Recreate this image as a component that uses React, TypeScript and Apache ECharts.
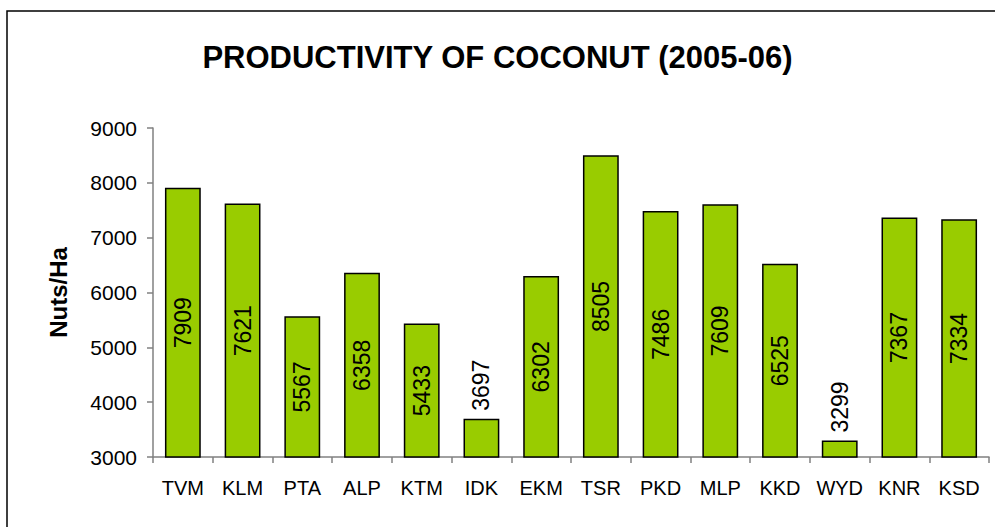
import React, { useEffect, useRef } from "react";
import * as echarts from "echarts";

const categories = ["TVM", "KLM", "PTA", "ALP", "KTM", "IDK", "EKM", "TSR", "PKD", "MLP", "KKD", "WYD", "KNR", "KSD"];
const values = [7909, 7621, 5567, 6358, 5433, 3697, 6302, 8505, 7486, 7609, 6525, 3299, 7367, 7334];
const yTicks = [3000, 4000, 5000, 6000, 7000, 8000, 9000];
const titleText = "PRODUCTIVITY OF COCONUT (2005-06)";
const yName = "Nuts/Ha";

const FONT = "Arial, 'Liberation Sans', sans-serif";

export default function App() {
  const ref = useRef<HTMLDivElement>(null);
  useEffect(() => {
    if (!ref.current) return;
    const chart = echarts.init(ref.current, null, { renderer: "svg" });
    const data = values.map((v) => ({
      value: v,
      label: v < 4000 ? { position: "top", distance: 8, align: "left", verticalAlign: "middle" } : undefined,
    }));
    chart.setOption({
      animation: false,
      backgroundColor: "#ffffff",
      title: {
        text: titleText,
        left: "center",
        top: 37,
        textStyle: { fontFamily: FONT, fontSize: 31, fontWeight: "bold", color: "#000" },
      },
      graphic: [
        {
          type: "polyline",
          shape: { points: [[7, 540], [7, 11], [1010, 11]] },
          style: { stroke: "#000", lineWidth: 1.5, fill: "none" },
          silent: true,
        },
      ],
      grid: { left: 153, right: 6, top: 128, bottom: 70, containLabel: false },
      xAxis: {
        type: "category",
        data: categories,
        axisLine: { lineStyle: { color: "#808080", width: 1.5 } },
        axisTick: { show: true, length: 6, inside: false, lineStyle: { color: "#808080", width: 1.5 } },
        axisLabel: { fontFamily: FONT, fontSize: 20, color: "#000", margin: 21, interval: 0 },
      },
      yAxis: {
        type: "value",
        min: yTicks[0],
        max: yTicks[yTicks.length - 1],
        interval: 1000,
        name: yName,
        nameLocation: "middle",
        nameGap: 83,
        nameTextStyle: { fontFamily: FONT, fontSize: 24, fontWeight: "bold", color: "#000" },
        splitLine: { show: false },
        axisLine: { show: true, lineStyle: { color: "#808080", width: 1.5 } },
        axisTick: { show: true, length: 6, inside: false, lineStyle: { color: "#808080", width: 1.5 } },
        axisLabel: { fontFamily: FONT, fontSize: 21, color: "#000", margin: 16, formatter: (v: number) => String(v) },
      },
      series: [
        {
          type: "bar",
          data,
          barWidth: "60%",
          itemStyle: { color: "#99CC00", borderColor: "#000", borderWidth: 1.5 },
          label: {
            show: true,
            position: "inside",
            rotate: 90,
            fontFamily: FONT,
            fontSize: 23,
            color: "#000",
          },
        },
      ],
    });
    return () => chart.dispose();
  }, []);
  return (
    <div style={{ position: "absolute", left: 0, top: 0, width: 995, height: 527, overflow: "hidden", background: "#fff" }}>
      <div ref={ref} style={{ width: 995, height: 527 }} />
    </div>
  );
}
